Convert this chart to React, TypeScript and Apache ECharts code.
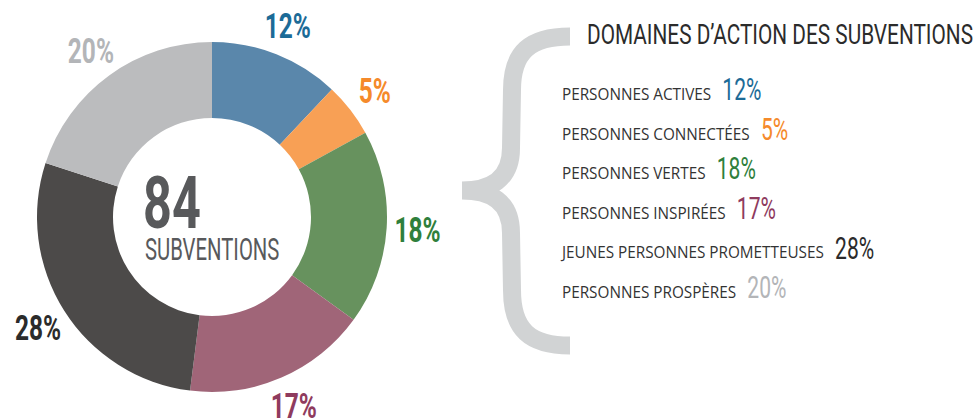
import React, { useEffect, useRef } from "react";
import * as echarts from "echarts";

const domainNames = [
  "PERSONNES ACTIVES",
  "PERSONNES CONNECTÉES",
  "PERSONNES VERTES",
  "PERSONNES INSPIRÉES",
  "JEUNES PERSONNES PROMETTEUSES",
  "PERSONNES PROSPÈRES",
];
const domainShares = [12, 5, 18, 17, 28, 20];
const sliceColors = ["#5a87ab", "#f8a055", "#67925e", "#a06578", "#4c4a49", "#bbbcbe"];
const labelColors = ["#1c6b97", "#f58a2b", "#2f7f3c", "#8f3b5e", "#2b2b2b", "#b3b5b8"];
const totalGrants = "84";
const centerCaption = "SUBVENTIONS";
const panelTitle = "DOMAINES D’ACTION DES SUBVENTIONS";

const bracePath =
  "M 570 36.5 C 530 36.5 512 52 512 90 L 511 148 C 511 180 490 190.5 462 190.5 " +
  "M 462 190.5 C 490 190.5 511 201 511 233 L 512 290 C 512 330 530 345.5 570 345.5";

let braceRegistered = false;

function measure(text: string, font: string): number {
  const c = document.createElement("canvas");
  const ctx = c.getContext("2d");
  if (!ctx) return text.length * 9;
  ctx.font = font;
  return ctx.measureText(text).width;
}

export default function App() {
  const ref = useRef<HTMLDivElement>(null);

  useEffect(() => {
    if (!ref.current) return;
    if (!braceRegistered) {
      echarts.graphic.registerShape("brace", echarts.graphic.extendPath(bracePath, {}) as any);
      braceRegistered = true;
    }
    const chart = echarts.init(ref.current, undefined, { renderer: "svg" });

    const nameFontSize = 17;
    const nameScale = 0.9;
    const nameFamily = "'Open Sans', sans-serif";
    const pctScale = 0.68;
    const legendX = 562;
    const firstBaseline = 100;
    const rowStep = 39.6;

    const legendEls: any[] = [];
    domainNames.forEach((n, i) => {
      const base = firstBaseline + i * rowStep;
      const w = measure(n, `${nameFontSize}px 'Open Sans'`) * nameScale;
      legendEls.push({
        type: "text",
        x: legendX,
        y: base - 6.3,
        scaleX: nameScale,
        style: {
          text: n,
          fill: "#333333",
          fontSize: nameFontSize,
          fontFamily: nameFamily,
          align: "left",
          textAlign: "left",
          verticalAlign: "middle",
          textVerticalAlign: "middle",
        },
      });
      legendEls.push({
        type: "text",
        x: legendX + w + 11,
        y: base - 11,
        scaleX: pctScale,
        style: {
          text: domainShares[i] + "%",
          fill: labelColors[i],
          fontSize: 31,
          fontWeight: 400,
          fontFamily: "Roboto, sans-serif",
          align: "left",
          textAlign: "left",
          verticalAlign: "middle",
          textVerticalAlign: "middle",
        },
      });
    });

    const center: [number, number] = [212, 217];
    const labelRadius = 206;

    // mid-point of each slice along the share scale (0..100)
    const labelData: number[][] = [];
    let acc = 0;
    domainShares.forEach((s) => {
      labelData.push([labelRadius, acc + s / 2, s]);
      acc += s;
    });

    chart.setOption({
      animation: false,
      backgroundColor: "#ffffff",
      polar: { center, radius: [0, 226] },
      angleAxis: { type: "value", min: 0, max: 100, startAngle: 90, clockwise: true, show: false },
      radiusAxis: { type: "value", min: 0, max: 226, show: false },
      series: [
        {
          type: "pie",
          center,
          radius: [99, 175],
          startAngle: 90,
          clockwise: true,
          silent: true,
          label: { show: false },
          labelLine: { show: false },
          data: domainNames.map((n, i) => ({
            name: n,
            value: domainShares[i],
            itemStyle: { color: sliceColors[i] },
          })),
        },
        {
          type: "custom",
          coordinateSystem: "polar",
          silent: true,
          data: labelData,
          renderItem: (params: any, api: any) => {
            const p = api.coord([api.value(0), api.value(1)]);
            return {
              type: "text",
              x: p[0],
              y: p[1],
              scaleX: 0.7,
              style: {
                text: api.value(2) + "%",
                fill: labelColors[params.dataIndex],
                fontSize: 35,
                fontWeight: "bold",
                fontFamily: "Roboto, sans-serif",
                align: "center",
                textAlign: "center",
                verticalAlign: "middle",
                textVerticalAlign: "middle",
              },
            };
          },
        },
      ],
      graphic: [
        {
          type: "brace",
          x: 0,
          y: 0,
          silent: true,
          style: { fill: "none", stroke: "#d1d3d4", lineWidth: 18 },
        },
        {
          type: "text",
          x: 143,
          y: 203,
          scaleX: 0.7,
          style: {
            text: totalGrants,
            fill: "#58595b",
            fontSize: 72,
            fontWeight: "bold",
            fontFamily: "Roboto, sans-serif",
            align: "left",
            textAlign: "left",
            verticalAlign: "middle",
            textVerticalAlign: "middle",
          },
        },
        {
          type: "text",
          x: 145,
          y: 249,
          scaleX: 0.655,
          style: {
            text: centerCaption,
            fill: "#58595b",
            fontSize: 31,
            fontFamily: "Roboto, sans-serif",
            align: "left",
            textAlign: "left",
            verticalAlign: "middle",
            textVerticalAlign: "middle",
          },
        },
        {
          type: "text",
          x: 587,
          y: 34,
          scaleX: 0.743,
          style: {
            text: panelTitle,
            fill: "#2b2b2b",
            fontSize: 28,
            fontFamily: "Roboto, sans-serif",
            align: "left",
            textAlign: "left",
            verticalAlign: "middle",
            textVerticalAlign: "middle",
          },
        },
        ...legendEls,
      ],
    });

    return () => chart.dispose();
  }, []);

  return (
    <div
      ref={ref}
      style={{ position: "fixed", left: 0, top: 0, width: 977, height: 418 }}
    />
  );
}
